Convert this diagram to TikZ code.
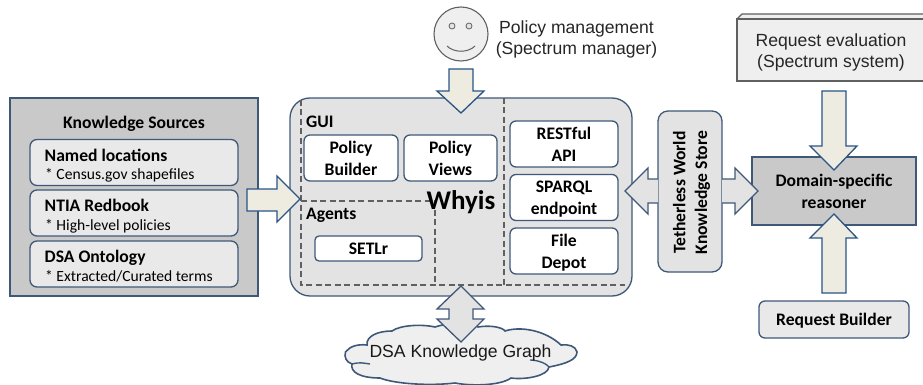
\documentclass[tikz,border=0pt]{standalone}
\usepackage{fontspec}
\setmainfont{Liberation Sans}
\newfontfamily\carl{Carlito}
\definecolor{edgeblue}{HTML}{3F5878}
\definecolor{arrowblue}{HTML}{2A5585}
\definecolor{arrowfill}{HTML}{EEECE1}
\definecolor{panel}{HTML}{E3E3E3}
\definecolor{darkpanel}{HTML}{C9C9C9}
\definecolor{inner}{HTML}{E9E9E9}
\definecolor{soft}{HTML}{EFEFEF}
\definecolor{graytxt}{HTML}{606060}
\tikzset{
  x=1pt,y=-1pt,
  boxlabel/.style={font=\carl\bfseries\fontsize{17.6}{21.7}\selectfont,align=center,inner sep=0pt,text=black,text depth=0pt,yshift=-1pt},
  sublabel/.style={font=\carl\fontsize{15.6}{18}\selectfont,inner sep=0pt,text=black,anchor=west,yshift=-1pt},
  plainlabel/.style={font=\fontsize{17.6}{21}\selectfont,align=center,inner sep=0pt,text=black!85,yshift=-1.5pt},
  whitebox/.style={boxlabel,draw=edgeblue,line width=1.3pt,fill=white,rounded corners=6pt,yshift=0pt,text depth=0pt},
  sourcebox/.style={draw=edgeblue,line width=1.3pt,fill=inner,rounded corners=7pt,minimum width=208pt,minimum height=46pt,inner sep=0pt},
  solidarrow/.style={draw=arrowblue,line width=1.3pt,fill=arrowfill,line join=miter},
  grayarrow/.style={draw=edgeblue,line width=1.3pt,fill=panel,line join=miter},
  dashline/.style={draw=graytxt,line width=1.2pt,dash pattern=on 6pt off 3.5pt},
}
\begin{document}
\begin{tikzpicture}
\useasboundingbox (0,0) rectangle (923,385);
% Knowledge sources
\node[draw=edgeblue,line width=1.3pt,fill=darkpanel,minimum width=248pt,minimum height=198pt,inner sep=0pt] (ks) at (134,197) {};
\node[boxlabel] (kst) at (134,121.5) {Knowledge Sources};
\node[sourcebox] (s1) at (134,162.5) {};
\node[sourcebox] (s2) at (134,213) {};
\node[sourcebox] (s3) at (134,264) {};
\node[boxlabel,anchor=west] (s1a) at (44.5,154) {Named locations};
\node[sublabel] (s1b) at (45,174) {* Census.gov shapefiles};
\node[boxlabel,anchor=west] (s2a) at (44.5,204.5) {NTIA Redbook};
\node[sublabel] (s2b) at (45,225) {* High-level policies};
\node[boxlabel,anchor=west] (s3a) at (44.5,255.5) {DSA Ontology};
\node[sublabel] (s3b) at (45,275.5) {* Extracted/Curated terms};
% Whyis panel
\node[draw=edgeblue,line width=1.3pt,fill=panel,rounded corners=20pt,minimum width=342pt,minimum height=198pt,inner sep=0pt] (why) at (461,197) {};
\coordinate (d1) at (301,100);
\coordinate (d2) at (301,285);
\coordinate (d3) at (625,285);
\coordinate (d4) at (504,98);
\coordinate (d5) at (504,285);
\coordinate (d6) at (301,201);
\coordinate (d7) at (435,201);
\coordinate (d8) at (435,285);
\draw[dashline] (d1) -- (d2) -- (d3);
\draw[dashline] (d4) -- (d5);
\draw[dashline] (d6) -- (d7) -- (d8);
\node[boxlabel,anchor=west] (gui) at (306,121) {GUI};
\node[boxlabel,anchor=west] (agents) at (306,213) {Agents};
\node[whitebox,minimum width=94pt,minimum height=46pt] (pb) at (351,157) {Policy\\Builder};
\node[whitebox,minimum width=93pt,minimum height=46pt] (pv) at (450.5,157) {Policy\\Views};
\node[whitebox,minimum width=107pt,minimum height=25pt,rounded corners=4pt] (setlr) at (368.5,247.5) {SETLr};
\node[whitebox,minimum width=108pt,minimum height=46pt] (rest) at (564,143) {RESTful\\API};
\node[whitebox,minimum width=108pt,minimum height=46pt] (sparql) at (564,196.5) {SPARQL\\endpoint};
\node[whitebox,minimum width=108pt,minimum height=46pt] (file) at (564,250) {File\\Depot};
\node[boxlabel,font=\carl\bfseries\fontsize{27}{30}\selectfont] (whytxt) at (461,199) {Whyis};
% Face
\node[draw=graytxt,line width=1.1pt,fill=soft,circle,minimum size=54pt,inner sep=0pt] (face) at (461,34) {};
\node[draw=graytxt,line width=.8pt,fill=panel,circle,minimum size=6pt,inner sep=0pt] (eye1) at (452,26) {};
\node[draw=graytxt,line width=.8pt,fill=panel,circle,minimum size=6pt,inner sep=0pt] (eye2) at (469,26) {};
\coordinate (sm1) at (447,46);
\coordinate (sm2) at (475,46);
\draw[graytxt,line width=1pt] (sm1) .. controls (454,53) and (468,53) .. (sm2);
\node[plainlabel] (pm) at (576.5,37.5) {Policy management\\(Spectrum manager)};
% Right side
\fill[soft] (737,19) -- (742,14) -- (923,14) -- (923,81) -- (737,81) -- cycle;
\draw[graytxt,line width=1.2pt] (923,81) -- (737,81) -- (737,19) -- (923,19);
\draw[graytxt,line width=1.2pt] (737,19) -- (742,14) -- (923,14);
\node[plainlabel] (re) at (831,50.5) {Request evaluation\\(Spectrum system)};
\node[draw=edgeblue,line width=1.3pt,fill=panel,rounded corners=10pt,minimum width=64pt,minimum height=161pt,inner sep=0pt] (tw) at (690,191.5) {};
\node[boxlabel,rotate=90,yshift=1pt] (twt) at (691,191.5) {Tetherless World\\Knowledge Store};
\node[draw=edgeblue,line width=1.3pt,fill=darkpanel,minimum width=164pt,minimum height=68pt,inner sep=0pt,boxlabel,yshift=1pt] (dom) at (834,191) {Domain-specific\\reasoner};
\node[draw=edgeblue,line width=1.3pt,fill=inner,rounded corners=6pt,minimum width=150pt,minimum height=37pt,boxlabel,yshift=1pt] (rb) at (834,319.5) {Request Builder};
% Cloud
\fill[soft] (345.5,352) .. controls (350,346) and (358,344) .. (367,345)
  .. controls (366,336) and (378,331) .. (392,331)
  .. controls (400,325) and (422,324) .. (435,327)
  .. controls (450,322) and (472,322) .. (478,327)
  .. controls (490,325) and (502,327) .. (505,331)
  .. controls (520,326) and (545,330) .. (561,345)
  .. controls (568,344) and (576,346) .. (577,352)
  .. controls (577,360) and (565,364) .. (549,367)
  .. controls (548,376) and (525,380) .. (511,378)
  .. controls (500,386) and (470,386) .. (455,383)
  .. controls (430,386) and (395,384) .. (380,378)
  .. controls (360,378) and (350,372) .. (352,364)
  .. controls (346,362) and (344,357) .. (345.5,352) -- cycle;
\draw[edgeblue,line width=1.6pt] (345.5,352) .. controls (350,346) and (358,344) .. (367,345)
  .. controls (366,336) and (378,331) .. (392,331)
  .. controls (400,325) and (422,324) .. (435,327)
  .. controls (450,322) and (472,322) .. (478,327)
  .. controls (490,325) and (502,327) .. (505,331)
  .. controls (520,326) and (545,330) .. (561,345)
  .. controls (568,344) and (576,346) .. (577,352)
  .. controls (577,360) and (565,364) .. (549,367)
  .. controls (548,376) and (525,380) .. (511,378)
  .. controls (500,386) and (470,386) .. (455,383)
  .. controls (430,386) and (395,384) .. (380,378)
  .. controls (360,378) and (350,372) .. (352,364)
  .. controls (346,362) and (344,357) .. (345.5,352) -- cycle;
\draw[edgeblue,line width=1.4pt] (352,364) .. controls (360,362) and (363,363) .. (370,364);
\draw[edgeblue,line width=1.4pt] (549,367) .. controls (545,362) and (535,360) .. (530,360);
\node[plainlabel,text=black!90] (cl) at (460.5,351) {DSA Knowledge Graph};
% Block arrows
\draw[solidarrow] (247,189) -- (277,189) -- (277,176) -- (300,199) -- (277,222) -- (277,211) -- (247,211) -- cycle;
\draw[solidarrow] (449,69) -- (473,69) -- (473,91) -- (484,91) -- (461,113) -- (437,91) -- (449,91) -- cycle;
\draw[solidarrow] (822,91) -- (846,91) -- (846,146) -- (857,146) -- (834,170) -- (810,146) -- (822,146) -- cycle;
\draw[solidarrow] (822,293) -- (846,293) -- (846,238) -- (857,238) -- (834,214) -- (810,238) -- (822,238) -- cycle;
\draw[grayarrow] (461,286) -- (484,309) -- (473,309) -- (473,319) -- (484,319) -- (461,342) -- (437,319) -- (449,319) -- (449,309) -- (437,309) -- cycle;
\draw[grayarrow] (658,179) -- (648,179) -- (648,168) -- (625,191) -- (648,214) -- (648,203) -- (658,203);
\draw[grayarrow] (722,179) -- (735,179) -- (735,168) -- (758,191) -- (735,214) -- (735,203) -- (722,203);
\end{tikzpicture}
\end{document}
